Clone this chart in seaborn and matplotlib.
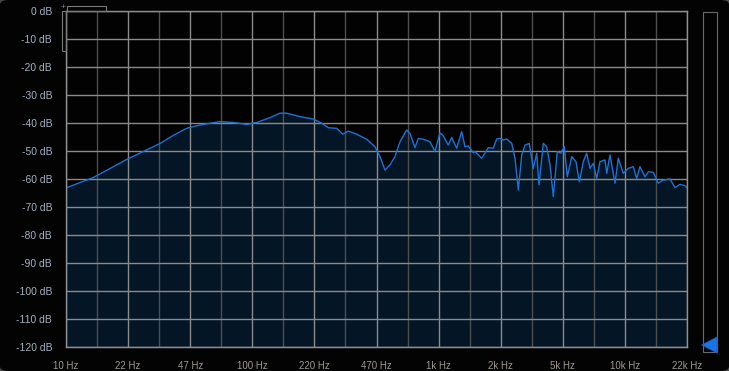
import matplotlib
matplotlib.use("Agg")
import matplotlib.pyplot as plt
from matplotlib.patches import Rectangle, Polygon, FancyBboxPatch
import seaborn as sns
import pandas as pd
import numpy as np

# ---- data (frequency in Hz, level in dB) ----
freq_hz = [10, 14.0, 21.2, 32.0, 37.5, 44.4, 52.4, 67.1, 78.8, 93.3, 105.6, 124.5,
           140.8, 153, 180, 212.6, 235.8, 255.8, 283.8, 305.6, 327.5, 363.5, 411,
           455.7, 484.6, 515.7, 548, 583, 620.5, 674, 702, 747, 778, 828, 899, 956,
           1017, 1060, 1127, 1176, 1251, 1330, 1386, 1444, 1536, 1568, 1703, 1849,
           1966, 2051, 2136, 2225, 2320, 2469, 2572, 2679, 2794, 2909, 3068, 3223,
           3362, 3459, 3648, 3804, 3963, 4128, 4336, 4523, 4729, 4907, 5181, 5464,
           5692, 5979, 6235, 6496, 6767, 7057, 7351, 7822, 7988, 8318, 8849, 9217,
           9804, 10430, 11090, 11570, 12050, 12820, 13360, 14210, 15110, 16080,
           17460, 18580, 19760, 21020, 21544]
level_db = [-63.2, -59.5, -53.0, -47.3, -44.5, -41.9, -40.7, -39.5, -39.8, -40.5, -39.8, -38.1,
            -36.5, -36.5, -37.7, -38.6, -40.1, -41.7, -41.9, -44.0, -42.9, -44.0, -45.8,
            -48.5, -52.0, -56.8, -55.0, -52.0, -46.7, -42.5, -43.7, -48.8, -45.5, -45.8, -46.7, -50.2,
            -43.5, -44.6, -47.9, -45.2, -49.0, -43.1, -48.5, -48.2, -50.6, -50.2, -52.6, -48.8,
            -49.0, -45.7, -45.5, -46.1, -45.7, -47.3, -52.6, -63.9, -51.4, -47.9, -47.3, -56.2,
            -50.8, -62.1, -47.3, -48.5, -55.0, -66.3, -50.2, -50.8, -48.5, -59.2, -52.0, -53.8,
            -61.0, -53.8, -50.8, -56.2, -54.4, -59.8, -53.8, -53.2, -58.0, -51.4, -61.5, -52.6,
            -58.0, -56.2, -55.6, -59.8, -55.6, -59.2, -57.4, -57.6, -61.5, -60.4,
            -60.0, -63.1, -61.9, -62.4, -63.2]

x_tick_labels = ["10 Hz", "22 Hz", "47 Hz", "100 Hz", "220 Hz", "470 Hz",
                 "1k Hz", "2k Hz", "5k Hz", "10k Hz", "22k Hz"]
y_ticks = [0, -10, -20, -30, -40, -50, -60, -70, -80, -90, -100, -110, -120]
y_tick_labels = ["0 dB", "-10 dB", "-20 dB", "-30 dB", "-40 dB", "-50 dB", "-60 dB",
                 "-70 dB", "-80 dB", "-90 dB", "-100 dB", "-110 dB", "-120 dB"]

df = pd.DataFrame({"freq": freq_hz, "level": level_db})

sns.set_style("dark")
plt.rcParams["font.family"] = ["Liberation Sans", "DejaVu Sans"]

W, H = 729, 371
fig = plt.figure(figsize=(W / 100, H / 100), dpi=100)
fig.patch.set_facecolor("#4a4a4a")
bg = FancyBboxPatch((0.0, 0.0), 1.0, 1.0,
                    boxstyle="round,pad=0,rounding_size=0.012",
                    transform=fig.transFigure, facecolor="#030303",
                    edgecolor="none", zorder=-10)
fig.patches.append(bg)

ax = fig.add_axes([66 / W, 1 - 347 / H, (687 - 66) / W, (347 - 11) / H])
ax.set_zorder(1)
ax.set_facecolor("#020202")

ax.set_xscale("log")
fmin, fmax = 10, 10 * 10 ** (20 / 6)
ax.set_xlim(fmin, fmax)
ax.set_ylim(-120, 0)

# fill under the curve
ax.fill_between(df["freq"], df["level"], -120, color="#041526", zorder=1, linewidth=0)

# grid
grid_major = [10 * 10 ** (k / 6) for k in range(0, 21, 2)]
grid_minor = [10 * 10 ** (k / 6) for k in range(1, 20, 2)]
ax.set_xticks(grid_major)
ax.set_xticklabels(x_tick_labels)
ax.set_xticks(grid_minor, minor=True)
ax.set_xticklabels([], minor=True)
ax.set_yticks(y_ticks)
ax.set_yticklabels(y_tick_labels)
ax.set_axisbelow(False)
ax.grid(which="major", axis="both", color="#8a8a8a", linewidth=1.0, zorder=2)
ax.grid(which="minor", axis="x", color="#4e4e4e", linewidth=1.0, zorder=2)
ax.tick_params(axis="both", which="both", length=0)
ax.tick_params(axis="x", pad=10, labelsize=7, labelcolor="#a09a8c")
ax.tick_params(axis="y", pad=10, labelsize=7.5, labelcolor="#a4b0c0")

sns.lineplot(data=df, x="freq", y="level", ax=ax, color="#1d72d6",
             linewidth=1.0, zorder=3)
ax.set_xlabel("")
ax.set_ylabel("")
for s in ax.spines.values():
    s.set_color("#909090")
    s.set_linewidth(1.0)
    s.set_zorder(4)

# meter on the right
def fx(px):
    return px / W

def fy(py):
    return 1 - py / H

fig.patches.append(Rectangle((fx(702.5), fy(352)), fx(716.5) - fx(702.5), fy(11.5) - fy(352),
                             transform=fig.transFigure, facecolor="none",
                             edgecolor="#6a6a6a", linewidth=0.8, zorder=2))
fig.patches.append(Polygon([(fx(701.5), fy(345)), (fx(717), fy(337)), (fx(717), fy(353))],
                           closed=True, transform=fig.transFigure,
                           facecolor="#1a74e6", edgecolor="#0d5cc8", linewidth=0.5, zorder=3))

# small top-left widgets
fig.patches.append(Rectangle((fx(66.5), fy(10.5)), fx(105.5) - fx(66.5), fy(6) - fy(10.5),
                             transform=fig.transFigure, facecolor="none",
                             edgecolor="#7a7a7a", linewidth=0.8, zorder=2))
fig.patches.append(Rectangle((fx(61.5), fy(50.5)), fx(65.5) - fx(61.5), fy(11) - fy(50.5),
                             transform=fig.transFigure, facecolor="none",
                             edgecolor="#7a7a7a", linewidth=0.8, zorder=2))
fig.text(fx(63), fy(7.5), "+", color="#8a8a8a", fontsize=6, ha="center", va="center")

fig.savefig("out.png", dpi=100, facecolor=fig.get_facecolor())
